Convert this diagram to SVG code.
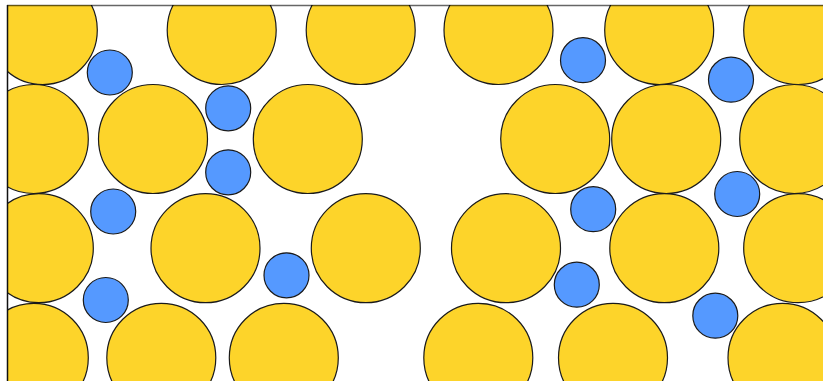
<svg xmlns="http://www.w3.org/2000/svg" width="823" height="381" viewBox="0 0 823 381">
<style>
.y{fill:#FDD42A;stroke:#1a1a1a;stroke-width:1.2}
.b{fill:#5599FF;stroke:#1a1a1a;stroke-width:1.2}
</style>
<defs>
<clipPath id="frame"><rect x="7" y="5" width="816" height="376"/></clipPath>
</defs>
<rect width="823" height="381" fill="#fff"/>
<g clip-path="url(#frame)">
<g id="large">
<circle class="y" cx="42.8" cy="30" r="54.5"/>
<circle class="y" cx="221.7" cy="30" r="54.5"/>
<circle class="y" cx="360.7" cy="30" r="54.5"/>
<circle class="y" cx="498.5" cy="30" r="54.5"/>
<circle class="y" cx="659.2" cy="30" r="54.5"/>
<circle class="y" cx="798.2" cy="30" r="54.5"/>
<circle class="y" cx="33.8" cy="139" r="54.5"/>
<circle class="y" cx="153" cy="139" r="54.5"/>
<circle class="y" cx="307.8" cy="139" r="54.5"/>
<circle class="y" cx="555.2" cy="139" r="54.5"/>
<circle class="y" cx="666.2" cy="139" r="54.5"/>
<circle class="y" cx="794.2" cy="139" r="54.5"/>
<circle class="y" cx="38.8" cy="248.2" r="54.5"/>
<circle class="y" cx="205.5" cy="248.2" r="54.5"/>
<circle class="y" cx="365.8" cy="248.2" r="54.5"/>
<circle class="y" cx="506" cy="248.2" r="54.5"/>
<circle class="y" cx="664.3" cy="248.2" r="54.5"/>
<circle class="y" cx="798.2" cy="248.2" r="54.5"/>
<circle class="y" cx="33.8" cy="357.8" r="54.5"/>
<circle class="y" cx="161.3" cy="357.8" r="54.5"/>
<circle class="y" cx="283.8" cy="357.8" r="54.5"/>
<circle class="y" cx="478.3" cy="357.8" r="54.5"/>
<circle class="y" cx="613" cy="357.8" r="54.5"/>
<circle class="y" cx="782.5" cy="357.8" r="54.5"/>
</g>
<g id="small">
<circle class="b" cx="109.8" cy="72.5" r="22.5"/>
<circle class="b" cx="228.2" cy="108.3" r="22.5"/>
<circle class="b" cx="228.2" cy="172.3" r="22.5"/>
<circle class="b" cx="113.2" cy="211.5" r="22.5"/>
<circle class="b" cx="105.8" cy="300" r="22.5"/>
<circle class="b" cx="286.5" cy="275.3" r="22.5"/>
<circle class="b" cx="583" cy="60.2" r="22.5"/>
<circle class="b" cx="731" cy="79.7" r="22.5"/>
<circle class="b" cx="593.2" cy="209.2" r="22.5"/>
<circle class="b" cx="737.2" cy="194" r="22.5"/>
<circle class="b" cx="576.8" cy="284.7" r="22.5"/>
<circle class="b" cx="715.3" cy="315.7" r="22.5"/>
</g>
</g>
<g id="frame-lines">
<line x1="7" y1="5.5" x2="823" y2="5.5" stroke="#000" stroke-opacity="0.6" stroke-width="1.6"/>
<line x1="7.5" y1="5" x2="7.5" y2="381" stroke="#111" stroke-width="1.5"/>
</g>
</svg>
